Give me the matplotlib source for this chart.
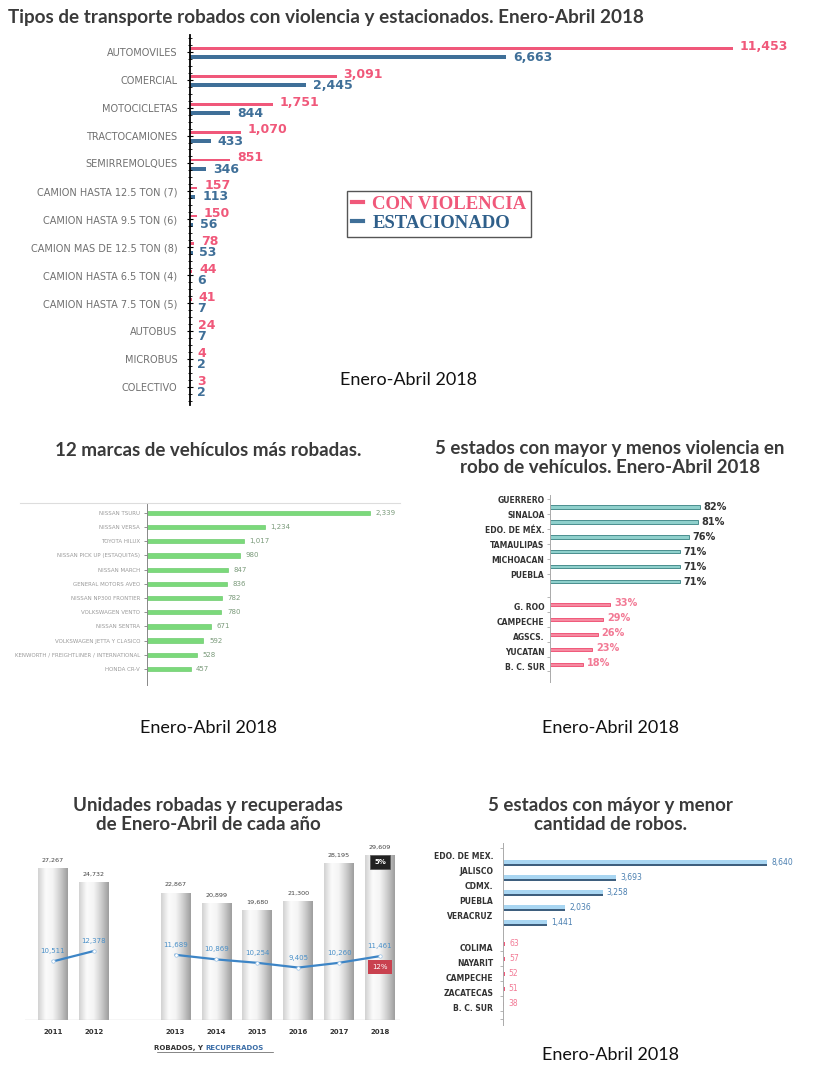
import matplotlib
matplotlib.use("Agg")
import matplotlib.pyplot as plt
import numpy as np
from matplotlib.colors import LinearSegmentedColormap
from matplotlib.lines import Line2D

# ---------------- data ----------------
tipos = ['AUTOMOVILES', 'COMERCIAL', 'MOTOCICLETAS', 'TRACTOCAMIONES', 'SEMIRREMOLQUES',
         'CAMION HASTA 12.5 TON (7)', 'CAMION HASTA 9.5 TON (6)', 'CAMION MAS DE 12.5 TON (8)',
         'CAMION HASTA 6.5 TON (4)', 'CAMION HASTA 7.5 TON (5)', 'AUTOBUS', 'MICROBUS', 'COLECTIVO']
con_violencia = [11453, 3091, 1751, 1070, 851, 157, 150, 78, 44, 41, 24, 4, 3]
estacionado = [6663, 2445, 844, 433, 346, 113, 56, 53, 6, 7, 7, 2, 2]

marcas = ['NISSAN TSURU', 'NISSAN VERSA', 'TOYOTA HILUX', 'NISSAN PICK UP (ESTAQUITAS)',
          'NISSAN MARCH', 'GENERAL MOTORS AVEO', 'NISSAN NP300 FRONTIER', 'VOLKSWAGEN VENTO',
          'NISSAN SENTRA', 'VOLKSWAGEN JETTA Y CLASICO', 'KENWORTH / FREIGHTLINER / INTERNATIONAL',
          'HONDA CR-V']
marcas_val = [2339, 1234, 1017, 980, 847, 836, 782, 780, 671, 592, 528, 457]

estados_mas_viol = ['GUERRERO', 'SINALOA', 'EDO. DE MÉX.', 'TAMAULIPAS', 'MICHOACAN', 'PUEBLA']
pct_mas_viol = [82, 81, 76, 71, 71, 71]
estados_menos_viol = ['G. ROO', 'CAMPECHE', 'AGSCS.', 'YUCATAN', 'B. C. SUR']
pct_menos_viol = [33, 29, 26, 23, 18]

anios = ['2011', '2012', '2013', '2014', '2015', '2016', '2017', '2018']
robados = [27267, 24732, 22867, 20899, 19680, 21300, 28195, 29609]
recuperados = [10511, 12378, 11689, 10869, 10254, 9405, 10260, 11461]

estados_mas_robos = ['EDO. DE MEX.', 'JALISCO', 'CDMX.', 'PUEBLA', 'VERACRUZ']
robos_mas = [8640, 3693, 3258, 2036, 1441]
estados_menos_robos = ['COLIMA', 'NAYARIT', 'CAMPECHE', 'ZACATECAS', 'B. C. SUR']
robos_menos = [63, 57, 52, 51, 38]

# ---------------- figure helpers ----------------
W, H = 825, 1077
fig = plt.figure(figsize=(W / 100, H / 100), dpi=100)
fig.patch.set_facecolor('white')


def axpx(x0, y0, x1, y1):
    return fig.add_axes([x0 / W, 1 - y1 / H, (x1 - x0) / W, (y1 - y0) / H])


def ftext(x, y, s, **kw):
    kw.setdefault('va', 'center')
    return fig.text(x / W, 1 - y / H, s, **kw)


TITLE_FONT = dict(family=['Lato', 'DejaVu Sans'], fontweight='bold', color='#3a3a3a')
SUB_FONT = dict(family=['Lato', 'DejaVu Sans'], color='#111111')
RED = '#f0587a'
BLUE = '#3f6f98'

# ---------------- titles / captions ----------------
ftext(8, 17, 'Tipos de transporte robados con violencia y estacionados. Enero-Abril 2018',
      fontsize=13.6, ha='left', **TITLE_FONT)
ftext(340, 380, 'Enero-Abril 2018', fontsize=13, ha='left', **SUB_FONT)
ftext(208, 451, '12 marcas de vehículos más robadas.', fontsize=13.5, ha='center', **TITLE_FONT)
ftext(610, 458, '5 estados con mayor y menos violencia en\nrobo de vehículos. Enero-Abril 2018',
      fontsize=13.5, ha='center', linespacing=1.2, **TITLE_FONT)
ftext(208, 728, 'Enero-Abril 2018', fontsize=13, ha='center', **SUB_FONT)
ftext(610, 728, 'Enero-Abril 2018', fontsize=13, ha='center', **SUB_FONT)
ftext(208, 815, 'Unidades robadas y recuperadas\nde Enero-Abril de cada año',
      fontsize=13.5, ha='center', linespacing=1.2, **TITLE_FONT)
ftext(610, 815, '5 estados con máyor y menor\ncantidad de robos.',
      fontsize=13.5, ha='center', linespacing=1.2, **TITLE_FONT)
ftext(610, 1055, 'Enero-Abril 2018', fontsize=13, ha='center', **SUB_FONT)

# ---------------- chart 1: tipos de transporte ----------------
ax1 = axpx(190, 35, 800, 405)
pos1 = np.arange(len(tipos))
ax1.barh(pos1 - 0.12, con_violencia, height=0.1, color=RED, edgecolor='none')
ax1.barh(pos1 + 0.2, estacionado, height=0.14, color=BLUE, edgecolor='none')
for p, v in zip(pos1, con_violencia):
    ax1.annotate(f'{v:,}', (v, p - 0.2), xytext=(5, 0), textcoords='offset points',
                 ha='left', va='center', fontsize=9, fontweight='bold', color=RED)
for p, v in zip(pos1, estacionado):
    ax1.annotate(f'{v:,}', (v, p + 0.2), xytext=(5, 0), textcoords='offset points',
                 ha='left', va='center', fontsize=9, fontweight='bold', color=BLUE)
ax1.set_xlim(0, 12866)
ax1.set_ylim(12.65, -0.6)
ax1.set_yticks(pos1, tipos)
ax1.set_yticks(np.arange(-0.5, 12.6, 0.25), minor=True)
ax1.tick_params(axis='y', which='major', length=4, direction='inout', pad=7,
                labelsize=7, labelcolor='#707070', width=0.8)
ax1.tick_params(axis='y', which='minor', length=3, direction='inout', width=0.6)
ax1.set_xticks([])
for s in ['top', 'right', 'bottom']:
    ax1.spines[s].set_visible(False)
ax1.spines['left'].set_linewidth(1.3)
ax1.patch.set_alpha(0)

leg_handles = [Line2D([], [], color=RED, lw=3), Line2D([], [], color=BLUE, lw=3)]
leg = fig.legend(leg_handles, ['CON VIOLENCIA', 'ESTACIONADO'], loc='upper left',
                 bbox_to_anchor=(347 / W, 1 - 191 / H), bbox_transform=fig.transFigure,
                 prop=dict(family='Liberation Serif', weight='bold', size=13.5),
                 labelcolor=[RED, '#2f5f8a'], handlelength=0.6, handletextpad=0.5,
                 fancybox=False, edgecolor='#555555', framealpha=1, borderpad=0.25,
                 labelspacing=0.1, borderaxespad=0)
leg.get_frame().set_linewidth(1.0)

# ---------------- chart 3: marcas ----------------
fig.add_artist(Line2D([20 / W, 400 / W], [1 - 503 / H, 1 - 503 / H], color='#dddddd', lw=0.8))
ax3 = axpx(147, 503, 400, 685)
pos3 = np.arange(len(marcas))
ax3.barh(pos3, marcas_val, height=0.3, color='#7bd97b', edgecolor='#5cc45c', linewidth=0.4)
for p, v in zip(pos3, marcas_val):
    ax3.annotate(f'{v:,}', (v, p), xytext=(4, 0), textcoords='offset points',
                 ha='left', va='center', fontsize=5, color='#7a9a7a')
ax3.set_xlim(0, 2654)
ax3.set_ylim(12.13, -0.7)
ax3.set_yticks(pos3, marcas)
ax3.tick_params(axis='y', length=2, width=0.5, color='#666666', pad=3,
                labelsize=4.0, labelcolor='#9a9a9a')
ax3.set_xticks([])
for s in ['top', 'right', 'bottom']:
    ax3.spines[s].set_visible(False)
ax3.spines['left'].set_color('#888888')
ax3.spines['left'].set_linewidth(0.7)
ax3.patch.set_alpha(0)

# ---------------- chart 4: violencia por estado ----------------
ax4 = axpx(550, 495, 720, 682)
pos4a = np.arange(len(estados_mas_viol))
pos4b = np.arange(len(estados_menos_viol)) + 6.5
ax4.barh(pos4a, pct_mas_viol, height=0.22, color='#8fd0cc', edgecolor='#4a8f8f', linewidth=0.7)
ax4.barh(pos4b, pct_menos_viol, height=0.2, color='#f58aa0', edgecolor=RED, linewidth=0.7)
for p, v, lab in zip(pos4a, pct_mas_viol, estados_mas_viol):
    ax4.annotate(f'{v}%', (v, p), xytext=(2.5, 0), textcoords='offset points',
                 ha='left', va='center', fontsize=7, fontweight='bold', color='#333333')
    ax4.annotate(lab, (0, p - 0.4), xytext=(-4, 0), textcoords='offset points',
                 ha='right', va='center', fontsize=5.5, fontweight='bold', color='#333333')
for p, v, lab in zip(pos4b, pct_menos_viol, estados_menos_viol):
    ax4.annotate(f'{v}%', (v, p - 0.1), xytext=(3, 0), textcoords='offset points',
                 ha='left', va='center', fontsize=7, fontweight='bold', color='#f27a95')
    ax4.annotate(lab, (0, p + 0.2), xytext=(-4, 0), textcoords='offset points',
                 ha='right', va='center', fontsize=5.5, fontweight='bold', color='#333333')
ax4.set_xlim(0, 93)
ax4.set_ylim(11.7, -0.8)
ax4.set_yticks(list(pos4a - 0.5) + list(pos4b - 0.5) + [10.95])
ax4.tick_params(axis='y', length=2, width=0.5, color='#999999', labelleft=False)
ax4.set_xticks([])
for s in ['top', 'right', 'bottom']:
    ax4.spines[s].set_visible(False)
ax4.spines['left'].set_color('#aaaaaa')
ax4.spines['left'].set_linewidth(0.7)
ax4.patch.set_alpha(0)

# ---------------- chart 5: robados y recuperados ----------------
ax5 = axpx(25, 840, 400, 1020)
x5 = np.array([0, 1, 3, 4, 5, 6, 7, 8])
bw = 0.73
cyl = LinearSegmentedColormap.from_list('cyl', ['#d2d2d2', '#fbfbfb', '#f4f4f4', '#cdcdcd', '#9e9e9e'])
grad = np.linspace(0, 1, 64).reshape(1, -1)
bars5 = ax5.bar(x5, robados, width=bw, color='none', edgecolor='none')
for b, xv, v in zip(bars5, x5, robados):
    im = ax5.imshow(grad, cmap=cyl, aspect='auto', extent=[xv - bw / 2, xv + bw / 2, 0, v],
                    interpolation='bicubic', zorder=1)
    im.set_clip_path(b)
    ax5.annotate(f'{v:,}', (xv, v), xytext=(0, 4), textcoords='offset points',
                 ha='center', va='bottom', fontsize=4.6, color='#444444')
for seg in [slice(0, 2), slice(2, 8)]:
    ax5.plot(x5[seg], recuperados[seg], color='#3d85c6', lw=1.6, zorder=3,
             marker='o', markersize=2.5, markerfacecolor='white', markeredgecolor='#9cc3e6',
             markeredgewidth=0.5)
for xv, v in zip(x5, recuperados):
    ax5.annotate(f'{v:,}', (xv, v), xytext=(0, 5), textcoords='offset points',
                 ha='center', va='bottom', fontsize=5, color='#4a90c8', zorder=4)
ax5.text(8, 28300, '5%', ha='center', va='center', fontsize=5, color='white', fontweight='bold',
         bbox=dict(boxstyle='square,pad=0.55', fc='#222222', ec='#555555', lw=0.5), zorder=5)
ax5.text(8, 9500, '12%', ha='center', va='center', fontsize=5, color='white',
         bbox=dict(boxstyle='square,pad=0.55', fc='#c9414f', ec='none'), zorder=5)
ax5.axhline(0, color='#bbbbbb', lw=0.9, zorder=2)
ax5.set_xlim(-0.685, 8.49)
ax5.set_ylim(0, 32290)
ax5.axis('off')
for xv, a in zip(x5, anios):
    ax5.annotate(a, (xv, 0), xytext=(0, -8.5), textcoords='offset points', ha='center',
                 va='center', fontsize=5, fontweight='bold', color='#333333', annotation_clip=False)
ftext(205, 1048, 'ROBADOS, Y ', fontsize=5, fontweight='bold', color='#333333', ha='right')
ftext(205, 1048, 'RECUPERADOS', fontsize=5, fontweight='bold', color='#3d6fa8', ha='left')
fig.add_artist(Line2D([157 / W, 273 / W], [1 - 1052 / H, 1 - 1052 / H], color='#555555', lw=0.5))

# ---------------- chart 6: cantidad de robos ----------------
ax6 = axpx(503, 843, 790, 1025)
pos6a = np.arange(len(estados_mas_robos))
pos6b = np.arange(len(estados_menos_robos)) + 5.4
ax6.barh(pos6a - 0.03, robos_mas, height=0.36, color='#a9d6f2', edgecolor='none')
ax6.barh(pos6a + 0.12, robos_mas, height=0.12, color='#3e5f7e', edgecolor='none')
ax6.barh(pos6b, robos_menos, height=0.25, color=RED, edgecolor='none')
for p, v, lab in zip(pos6a, robos_mas, estados_mas_robos):
    ax6.annotate(f'{v:,}', (v, p), xytext=(3, 0), textcoords='offset points',
                 ha='left', va='center', fontsize=5.5, color='#4a7fb0')
    ax6.annotate(lab, (0, p - 0.4), xytext=(-7, 0), textcoords='offset points',
                 ha='right', va='center', fontsize=5.5, fontweight='bold', color='#333333')
for p, v, lab in zip(pos6b, robos_menos, estados_menos_robos):
    ax6.annotate(f'{v}', (v, p), xytext=(3, 0), textcoords='offset points',
                 ha='left', va='center', fontsize=5.5, color='#f27a95')
    ax6.annotate(lab, (0, p + 0.27), xytext=(-7, 0), textcoords='offset points',
                 ha='right', va='center', fontsize=5.5, fontweight='bold', color='#333333')
ax6.set_xlim(0, 9393)
ax6.set_ylim(10.8, -1.33)
ax6.set_yticks(list(pos6b + 0.5) + [-1.0, 10.4])
ax6.tick_params(axis='y', length=2, width=0.5, color='#999999', labelleft=False)
ax6.set_xticks([])
for s in ['top', 'right', 'bottom']:
    ax6.spines[s].set_visible(False)
ax6.spines['left'].set_color('#aaaaaa')
ax6.spines['left'].set_linewidth(0.7)
ax6.patch.set_alpha(0)

fig.savefig('out.png', dpi=100, facecolor='white')
